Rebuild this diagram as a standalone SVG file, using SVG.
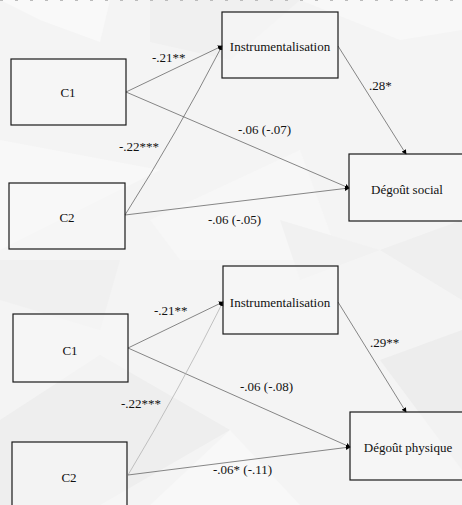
<svg xmlns="http://www.w3.org/2000/svg" width="462" height="505" viewBox="0 0 462 505">
<defs>
<style>
.box{fill:#f7f7f7;fill-opacity:0.5;stroke:#1a1a1a;stroke-width:1.2}
.t{font-family:'Liberation Serif','DejaVu Serif',serif;font-size:13px;fill:#111}
.c{text-anchor:middle;dominant-baseline:central}
.e{fill:none;stroke:#555;stroke-width:0.7}
.el{fill:none;stroke:#aaa;stroke-width:0.7}
</style>
<marker id="ah" viewBox="0 0 6 6" refX="5" refY="3" markerWidth="5" markerHeight="5" orient="auto" markerUnits="userSpaceOnUse">
<path d="M0,0 L6,3 L0,6 Z" fill="#000"/>
</marker>
</defs>
<g id="background">
<rect x="0" y="0" width="462" height="505" fill="#f4f4f4"/>
<polygon points="0,0 110,0 100,42 40,20" fill="#f9f9f9"/>
<polygon points="150,0 300,0 230,60 150,42" fill="#f0f0f0"/>
<polygon points="300,0 462,0 462,30 400,40" fill="#f8f8f8"/>
<polygon points="0,140 160,170 0,250" fill="#f8f8f8"/>
<polygon points="150,220 300,150 340,260 180,260" fill="#f7f7f7"/>
<polygon points="380,250 462,220 462,300" fill="#efefef"/>
<polygon points="0,260 120,260 100,330 0,300" fill="#f0f0f0"/>
<polygon points="100,355 230,430 100,505 0,505 0,420" fill="#eeeeee"/>
<polygon points="230,430 300,505 150,505" fill="#f8f8f8"/>
<polygon points="380,360 462,330 462,470" fill="#ededed"/>
<polygon points="280,220 380,250 300,280" fill="#f1f1f1"/>
<line x1="0" y1="0.5" x2="462" y2="0.5" stroke="#bbb" stroke-width="1" stroke-dasharray="3,12"/>
</g>
<g id="connectors">
<line class="e" x1="126" y1="92" x2="222" y2="46" marker-end="url(#ah)"/>
<line class="e" x1="126" y1="92" x2="349" y2="188" marker-end="url(#ah)"/>
<path class="e" d="M125,215 Q177,133 222,46" marker-end="url(#ah)"/>
<line class="e" x1="125" y1="215" x2="349" y2="188" marker-end="url(#ah)"/>
<line class="e" x1="338" y1="46" x2="406" y2="154" marker-end="url(#ah)"/>
<line class="e" x1="128" y1="348" x2="223" y2="302" marker-end="url(#ah)"/>
<line class="e" x1="128" y1="348" x2="350" y2="447" marker-end="url(#ah)"/>
<path class="el" d="M128,475 Q179,390 223,302" marker-end="url(#ah)"/>
<line class="e" x1="128" y1="475" x2="350" y2="447" marker-end="url(#ah)"/>
<line class="e" x1="338" y1="302" x2="406" y2="412" marker-end="url(#ah)"/>
<text class="t" x="152" y="62">-.21**</text>
<text class="t" x="119" y="151">-.22***</text>
<text class="t" x="369" y="90">.28*</text>
<text class="t" x="238" y="134">-.06 (-.07)</text>
<text class="t" x="208" y="224">-.06 (-.05)</text>
<text class="t" x="154" y="315">-.21**</text>
<text class="t" x="121" y="408">-.22***</text>
<text class="t" x="370" y="347">.29**</text>
<text class="t" x="240" y="391">-.06 (-.08)</text>
<text class="t" x="213" y="474">-.06* (-.11)</text>
</g>
<g id="instr1"><rect class="box" x="222" y="12" width="116" height="66"/><text class="t c" x="280" y="46">Instrumentalisation</text></g>
<g id="c1a"><rect class="box" x="11" y="59" width="115" height="66"/><text class="t c" x="68" y="92">C1</text></g>
<g id="c2a"><rect class="box" x="9" y="183" width="116" height="66"/><text class="t c" x="67" y="217">C2</text></g>
<g id="social"><rect class="box" x="349" y="154" width="116" height="67"/><text class="t c" x="407" y="189">Dégoût social</text></g>
<g id="instr2"><rect class="box" x="223" y="266" width="115" height="68"/><text class="t c" x="280" y="302">Instrumentalisation</text></g>
<g id="c1b"><rect class="box" x="13" y="314" width="115" height="68"/><text class="t c" x="70" y="350">C1</text></g>
<g id="c2b"><rect class="box" x="12" y="442" width="115" height="70"/><text class="t c" x="69" y="477">C2</text></g>
<g id="physique"><rect class="box" x="350" y="412" width="116" height="68"/><text class="t c" x="408" y="447">Dégoût physique</text></g>
</svg>
